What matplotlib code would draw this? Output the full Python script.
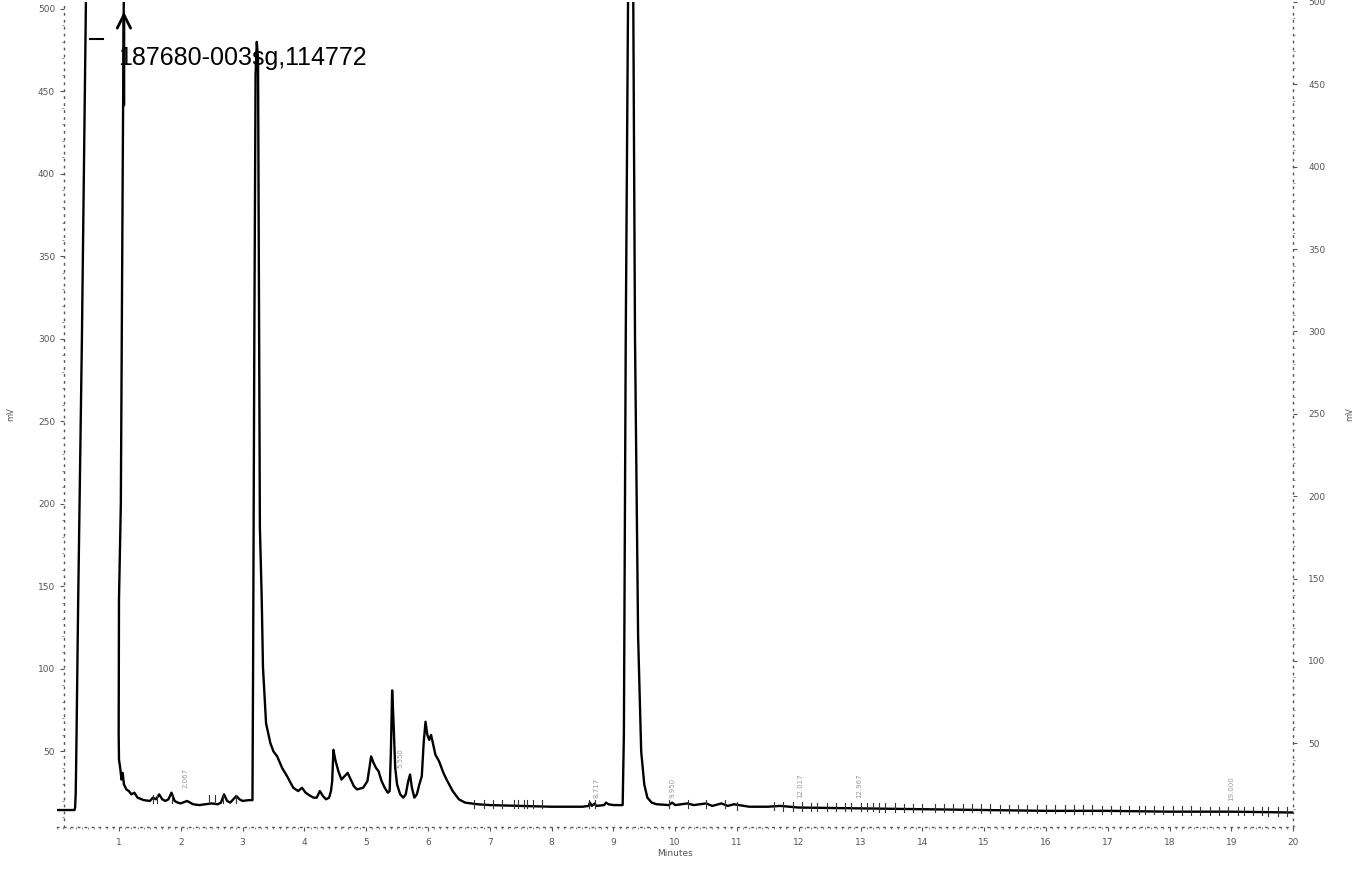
import matplotlib
matplotlib.use("Agg")
import matplotlib.pyplot as plt
from matplotlib.ticker import MultipleLocator
from matplotlib.lines import Line2D

# chromatogram trace (minutes, mV); values > 500 are off scale
time_min = [0.0, 0.1, 0.2, 0.28, 0.29, 0.30, 0.31, 0.34, 0.40, 0.47, 0.6, 0.9, 1.08,
            1.06, 1.03, 1.00, 0.995, 1.0, 1.02, 1.04, 1.06, 1.08, 1.12, 1.16, 1.2,
            1.25, 1.3, 1.4, 1.5, 1.55, 1.6, 1.65, 1.7, 1.75, 1.8, 1.85, 1.9, 1.95,
            2.0, 2.1, 2.2, 2.3, 2.4, 2.5, 2.6, 2.65, 2.7, 2.75, 2.8, 2.85, 2.9, 2.95,
            3.0, 3.1, 3.16, 3.17, 3.19, 3.21, 3.23, 3.25, 3.28, 3.31, 3.33, 3.36,
            3.38, 3.45, 3.5, 3.56, 3.64, 3.72, 3.82, 3.9, 3.96, 4.02, 4.1, 4.15,
            4.2, 4.25, 4.3, 4.35, 4.4, 4.43, 4.45, 4.47, 4.5, 4.55, 4.6, 4.65, 4.7,
            4.75, 4.8, 4.85, 4.95, 5.02, 5.06, 5.08, 5.12, 5.16, 5.2, 5.25, 5.3,
            5.35, 5.38, 5.4, 5.42, 5.44, 5.47, 5.5, 5.55, 5.6, 5.64, 5.68, 5.71,
            5.74, 5.78, 5.82, 5.86, 5.9, 5.93, 5.96, 5.99, 6.02, 6.05, 6.08, 6.12,
            6.18, 6.25, 6.3, 6.4, 6.5, 6.6, 6.8, 7.0, 7.5, 8.0, 8.5, 8.6, 8.62,
            8.65, 8.7, 8.72, 8.85, 8.88, 8.92, 9.0, 9.15, 9.17, 9.2, 9.24, 9.32,
            9.35, 9.4, 9.45, 9.5, 9.55, 9.62, 9.7, 9.9, 9.95, 10.0, 10.2, 10.3,
            10.5, 10.6, 10.75, 10.85, 10.95, 11.2, 11.5, 11.7, 12.0, 13.0, 14.0,
            15.0, 16.0, 17.0, 18.0, 19.0, 20.0]
signal_mv = [14.5, 14.5, 14.5, 14.5, 16, 25, 50, 142, 300, 520, 520, 520, 520,
             400, 200, 142, 61, 45, 40, 33, 37, 30, 27, 26, 24,
             25, 22, 20.5, 20, 22, 21, 24, 21, 20, 21, 25, 20, 19,
             18.5, 20, 18, 17.5, 18, 18.5, 18, 19, 24, 20, 19, 21, 23, 21,
             20, 20.5, 20.5, 100, 300, 460, 480, 470, 186, 142, 101, 80,
             67, 55, 50, 47, 40, 35, 28, 26, 28, 25, 23, 22,
             22, 26, 23, 21, 22, 26, 32, 51, 45, 38, 33, 35, 37,
             33, 29, 27, 28, 32, 42, 47, 43, 40, 38, 32, 28,
             25, 26, 50, 87, 70, 40, 30, 24, 22, 24, 32, 36,
             28, 22, 24, 30, 35, 55, 68, 60, 57, 60, 55, 48,
             44, 37, 33, 26, 21, 19, 18, 17.5, 17, 16.5, 16.5, 17, 19,
             17, 18.5, 17, 17.5, 19, 18, 17.5, 17.5, 60, 300, 520, 520,
             300, 120, 50, 30, 22, 19, 18, 17.5, 19, 17.5, 18.5, 17.5,
             18.5, 17, 18.5, 17, 18, 16.5, 16.5, 17, 16, 15.5, 15,
             14.5, 14, 14, 13.5, 13.5, 13]

# integration event marks along the baseline
event_times = [1.55, 1.62, 1.85, 2.45, 2.55, 2.68, 2.9, 6.75, 6.9, 7.05, 7.2,
               7.4, 7.45, 7.55, 7.6, 7.7, 7.85, 8.6, 8.7, 9.9, 10.2, 10.5, 10.8,
               11.0, 11.6, 11.75, 11.9, 12.05, 12.2, 12.3, 12.45, 12.6, 12.75,
               12.85, 13.0, 13.1, 13.2, 13.3, 13.4, 13.55, 13.7, 13.85, 14.0,
               14.2, 14.35, 14.5, 14.65, 14.8, 14.95, 15.1, 15.25, 15.4, 15.55,
               15.7, 15.85, 16.0, 16.15, 16.3, 16.45, 16.6, 16.75, 16.9, 17.05,
               17.2, 17.35, 17.5, 17.6, 17.75, 17.9, 18.05, 18.2, 18.35, 18.5,
               18.65, 18.8, 18.95, 19.1, 19.2, 19.35, 19.5, 19.6, 19.75, 19.9]
# faint retention-time labels printed vertically above small peaks
label_times = [2.07, 5.55, 8.72, 9.95, 12.02, 12.97, 19.0]
label_texts = ["2.067", "5.550", "8.717", "9.950", "12.017", "12.967", "19.000"]
label_levels = [28, 40, 22, 22, 22, 22, 20]

y_ticks = [50, 100, 150, 200, 250, 300, 350, 400, 450, 500]
x_ticks = list(range(1, 21))

fig = plt.figure(figsize=(13.68, 8.69), dpi=100)
ax = fig.add_axes([0.0418, 0.0483, 0.9035, 0.9494])
ax.set_xlim(0, 20)
ax.set_ylim(4.2, 504.2)

ax.plot(time_min, signal_mv, color="black", lw=1.7)

# event ticks sitting on the baseline
for t in event_times:
    base = 20.5 if t < 3 else (17.5 if t < 11 else 16.5 - 3.5 * (t - 11) / 9)
    ax.plot([t, t], [base - 2, base + 3], color="#333333", lw=0.8)

for t, s, lev in zip(label_times, label_texts, label_levels):
    ax.text(t, lev, s, rotation=90, fontsize=5, color="#999999",
            ha="center", va="bottom")

# peak name / arrow annotation at the top
ax.annotate("", xy=(1.08, 500), xytext=(1.08, 440),
            arrowprops=dict(arrowstyle="->", lw=2, color="black",
                            mutation_scale=24))
ax.add_line(Line2D([0.0265, 0.0370], [0.955, 0.955], transform=ax.transAxes,
                   color="black", lw=1.5))
ax.text(0.98, 470, "187680-003sg,114772", fontsize=18,
        family="Liberation Sans", va="center", ha="left")

ax.spines["top"].set_visible(False)
for side in ["left", "right", "bottom"]:
    ax.spines[side].set_linestyle((0, (1, 4)))
    ax.spines[side].set_color("#555555")
    ax.spines[side].set_linewidth(1.0)
ax.spines["left"].set_position(("outward", -5))

ax.set_xticks(x_ticks)
ax.xaxis.set_minor_locator(MultipleLocator(0.1))
ax.set_yticks(y_ticks)
ax.yaxis.set_minor_locator(MultipleLocator(10))
ax.tick_params(axis="both", which="major", labelsize=6.5, colors="#555555",
               length=3, width=0.8)
ax.tick_params(axis="both", which="minor", length=1.5, width=0.6,
               colors="#777777")
ax.tick_params(axis="x", pad=5)
ax.set_xlabel("Minutes", fontsize=6.5, color="#555555", labelpad=1)
ax.set_ylabel("mV", fontsize=6, color="#555555", labelpad=16)

ax2 = ax.twinx()
ax2.set_ylim(-0.8, 499.2)
ax2.set_yticks(y_ticks)
ax2.yaxis.set_minor_locator(MultipleLocator(10))
ax2.tick_params(axis="y", which="major", labelsize=6.5, colors="#555555",
                length=3, width=0.8, pad=8)
ax2.tick_params(axis="y", which="minor", length=1.5, width=0.6,
                colors="#777777")
for side in ["top", "left", "bottom", "right"]:
    ax2.spines[side].set_visible(False)
ax2.set_ylabel("mV", fontsize=6, color="#555555", labelpad=14, rotation=90)

fig.savefig("out.png", dpi=100)
